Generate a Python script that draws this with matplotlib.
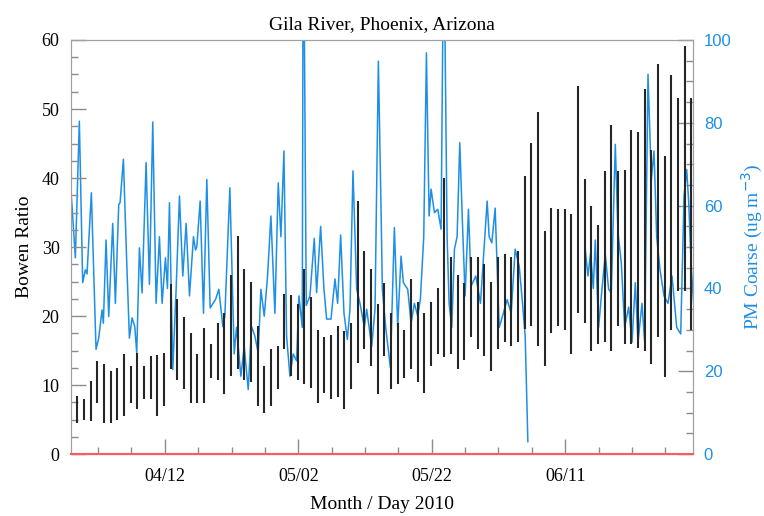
import numpy as np
import matplotlib
matplotlib.use("Agg")
import matplotlib.pyplot as plt
import matplotlib.dates as mdates
from matplotlib.ticker import MultipleLocator, FixedLocator

plt.rcParams['font.family'] = ['Liberation Serif', 'DejaVu Serif']

# days counted from 2010-03-29
start = np.datetime64('2010-03-29')

# Bowen ratio: daily range (low, high), one daytime stroke per day
bowen_low = [4.5, 5.0, 4.8, 7.4, 4.5, 4.5, 5.0, 5.5, 7.4, 6.6,
             8.0, 8.0, 5.5, 7.0, 12.3, 10.8, 9.4, 7.4, 7.4, 7.4,
             11.0, 10.8, 8.7, 11.3, 12.3, 10.8, 10.4, 7.0, 6.0, 7.0,
             9.4, 15.2, 11.3, 10.8, 10.1, 9.6, 7.4, 8.9, 8.0, 8.2,
             6.6, 9.4, 13.2, 15.2, 12.8, 8.7, 14.2, 9.4, 10.1, 11.0,
             12.3, 10.4, 8.9, 12.8, 14.5, 14.0, 14.5, 12.3, 13.7, 17.0,
             15.2, 14.2, 12.0, 15.2, 16.2, 15.7, 16.2, 18.1, 18.5, 15.7,
             12.8, 17.6, 18.5, 18.0, 14.5, 20.5, 19.0, 14.9, 15.9, 16.2,
             14.9, 18.5, 16.0, 15.9, 15.4, 14.9, 13.0, 17.0, 11.1, 18.0,
             23.6, 23.6, 18.0]
bowen_high = [8.4, 8.0, 10.6, 13.5, 13.0, 12.0, 12.5, 14.5, 12.7, 14.6,
              12.7, 14.2, 14.4, 14.6, 24.6, 22.5, 19.8, 17.5, 14.5, 18.3,
              16.0, 19.0, 20.5, 26.0, 31.6, 26.8, 25.0, 18.5, 12.8, 15.2,
              15.7, 23.2, 23.0, 21.7, 26.8, 22.7, 18.0, 17.0, 17.2, 18.5,
              17.8, 19.0, 36.7, 29.4, 26.8, 21.7, 24.8, 20.4, 19.0, 18.0,
              25.4, 22.0, 20.4, 22.0, 24.0, 40.0, 28.5, 26.0, 24.8, 28.5,
              28.5, 27.6, 25.0, 28.5, 29.0, 28.5, 29.4, 40.3, 45.1, 49.6,
              32.3, 35.7, 35.5, 35.5, 34.8, 53.3, 39.9, 35.9, 33.2, 41.0,
              47.7, 41.0, 41.2, 47.0, 46.6, 52.9, 44.0, 56.5, 43.2, 54.9,
              51.6, 59.1, 51.6]

# PM coarse: turning points (day, ug m-3); nan marks the data gap
pm_day = [0.0, 0.1, 0.6, 1.2, 1.7, 2.1, 2.35, 3.0, 3.7, 4.1, 4.6, 4.8, 5.2, 5.6,
          6.2, 6.6, 7.1, 7.3, 7.8, 8.3, 8.7, 9.1, 9.5, 9.8, 10.2, 10.6, 11.2,
          11.7, 12.2, 12.7, 13.2, 13.6, 14.1, 14.4, 14.7, 15.2, 15.7, 16.2,
          16.7, 17.2, 17.7, 18.3, 18.6, 18.8, 19.3, 19.8, 20.3, 20.8, 21.6,
          22.1, 22.7, 23.0, 23.75, 24.4, 24.75, 25.4, 25.9, 26.5, 27.0, 27.5,
          28.0, 28.4, 28.9, 29.4, 29.9, 30.5, 31.0, 31.4, 31.85, 32.25, 32.75,
          33.25, 33.75, 34.1, 34.6, 34.75, 35.2, 35.75, 36.4, 36.75, 37.35,
          37.85, 38.25, 38.9, 39.5, 39.9, 40.35, 40.85, 41.35, 41.75, 42.2,
          42.75, 43.25, 43.9, 44.25, 45.0, 45.5, 46.0, 46.4, 46.6, 47.1, 47.8,
          48.4, 48.9, 49.4, 49.75, 50.4, 50.9, 51.4, 51.9, 52.3, 52.8, 53.2,
          53.6, 53.9, 54.4, 54.9, 55.4, 55.8, 56.3, 56.6, 57.0, 57.4, 57.8,
          58.2, 58.6, 59.0, 59.5, 59.9, 60.6, 61.3, 62.3, 62.6, 63.0, 63.5,
          64.1, 64.6, 65.3, 65.9, 66.5, 67.1, 67.6, 68.0, 68.4, 72.0,
          77.0, 77.4, 77.8, 78.2, 78.5, 79.0, 79.5, 80.0, 80.5, 80.9, 81.5,
          81.9, 82.4, 82.9, 83.5, 84.0, 84.5, 84.9, 85.5, 85.9, 86.4, 86.9,
          87.3, 87.7, 88.2, 88.8, 89.4, 90.0, 90.7, 91.3, 91.8, 92.2, 92.5,
          92.9, 93.4]
pm_val = [62, 60, 47.4, 80.4, 41.4, 44.5, 43.5, 63.1, 25.3, 28, 34.8, 31.6, 51.7, 33.2,
          55.7, 36.4, 60.3, 60.7, 71.2, 46.2, 28, 32.9, 30.8, 24.4, 49.8, 38.9, 70.4,
          41, 80.2, 36.4, 52.5, 36.4, 47.4, 40, 60.7, 20.4, 39.8, 62.3,
          43, 55.7, 38.2, 52.5, 49.3, 50, 61.1, 34, 66.3, 35.3, 37.3,
          39.8, 30.8, 33.3, 64.3, 24.2, 30.6, 18.8, 26, 15.6, 30.8, 28.5,
          24.4, 39.8, 33.3, 43, 57.5, 34, 65.5, 52.5, 73.2, 28.5, 18.8,
          24.2, 22.5, 38.2, 30.6, 140, 35.9, 38.2, 52.1, 39, 55,
          39.8, 32.6, 32.6, 42.3, 36.4, 52.9, 34, 27.7, 35, 68.4,
          39.8, 36.4, 30.6, 35, 26, 35, 94.9, 59.5, 39.8, 30.6, 20.9,
          54.7, 30.8, 47.8, 41.4, 39.8, 31.6, 36.4, 33.3, 37.5, 52.5, 96.9,
          57.5, 64, 58.3, 59.1, 54.3, 130, 52.5, 36.4, 30.6, 49.5, 52.5,
          75.2, 55.7, 38.2, 59.1, 40.6, 43, 36.4, 61.1, 52.5, 51, 59.4,
          30.6, 33.3, 37.3, 34, 49.5, 45.4, 36.4, 28.5, 3.0, np.nan,
          49.4, 43, 48.6, 40, 51.7, 30.6, 39.8, 48.2, 39.8, 39, 74.8,
          53.5, 46.2, 30.6, 35.5, 27, 41.4, 27, 36.4, 27, 91.7, 66.3,
          73.2, 52.5, 44.5, 38.2, 36.4, 43, 30.6, 29, 62.3, 68.7, 60.7,
          44.5, 32.6]

base = mdates.date2num(start)
bowen_t = base + np.arange(len(bowen_low)) + 0.9

blue = '#1e8fe6'
grey = '#8c8c8c'

fig = plt.figure(figsize=(7.64, 5.16), dpi=100)
ax = fig.add_axes([0.0925, 0.12, 0.8142, 0.8025])
ax2 = ax.twinx()
# black strokes drawn over the blue trace
ax.set_zorder(ax2.get_zorder() + 1)
ax.patch.set_visible(False)

# daytime strokes are not joined across the night
ax.vlines(bowen_t, bowen_low, bowen_high, color='#262626', lw=1.5)
ax.axhline(0, color='#ff5a5a', lw=1.5, zorder=5, clip_on=False)
ax2.plot(base + np.array(pm_day), pm_val, color=blue, lw=1.1)

ax.set_xlim(base - 0.1, base + 93.1)
ax.set_ylim(0, 60)
ax2.set_ylim(0, 100)

major = base + 14 + np.arange(0, 80, 20)
minor = base + 4 + np.arange(0, 90, 5)
ax.xaxis.set_major_locator(FixedLocator(major))
ax.xaxis.set_minor_locator(FixedLocator(minor))
ax.xaxis.set_major_formatter(mdates.DateFormatter('%m/%d'))
ax.yaxis.set_major_locator(MultipleLocator(10))
ax.yaxis.set_minor_locator(MultipleLocator(2.5))
ax2.yaxis.set_major_locator(MultipleLocator(20))
ax2.yaxis.set_minor_locator(MultipleLocator(5))

for a in (ax, ax2):
    a.tick_params(which='major', direction='in', length=11, width=1, color=grey)
    a.tick_params(which='minor', direction='in', length=5, width=1, color=grey)
    for s in a.spines.values():
        s.set_color('#a0a0a0')
ax.tick_params(axis='both', labelsize=13, pad=8)
ax.tick_params(axis='x', pad=10)
ax2.tick_params(axis='y', labelsize=12, labelcolor=blue, pad=8)
for lab in ax2.get_yticklabels():
    lab.set_family('Liberation Sans')

ax.set_title('Gila River, Phoenix, Arizona', fontsize=14, pad=8)
ax.set_xlabel('Month / Day 2010', fontsize=14, labelpad=8)
ax.set_ylabel('Bowen Ratio', fontsize=14, labelpad=6)
ax2.set_ylabel('PM Coarse (ug m$^{-3}$)', fontsize=14, color=blue, labelpad=6)

fig.savefig('out.png', dpi=100)
